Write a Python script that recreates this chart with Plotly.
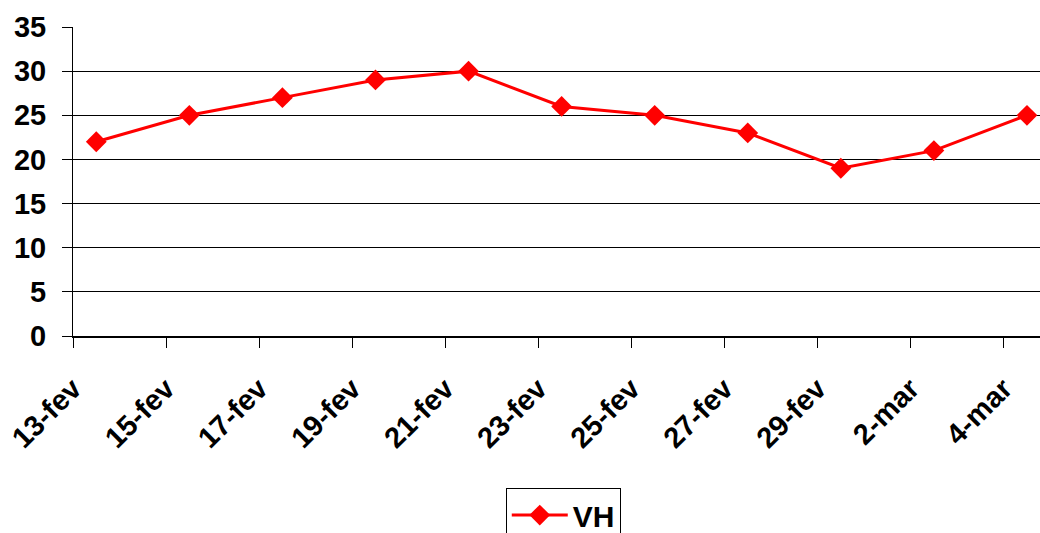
import plotly.graph_objects as go

# Daily readings, labelled every two days
dates = ["13-fev", "15-fev", "17-fev", "19-fev", "21-fev", "23-fev",
         "25-fev", "27-fev", "29-fev", "2-mar", "4-mar"]
vh_values = [22, 25, 27, 29, 30, 26, 25, 23, 19, 21, 25]

# Category slots: each reading sits a quarter step after its tick
tick_pos = list(range(len(dates)))
point_pos = [p + 0.25 for p in tick_pos]

FONT = "Arial, 'Liberation Sans', sans-serif"

fig = go.Figure()
fig.add_trace(go.Scatter(
    x=point_pos, y=vh_values, name="VH", mode="lines+markers",
    line=dict(color="#ff0000", width=3),
    marker=dict(symbol="diamond", size=16, color="#ff0000"),
))

fig.update_layout(
    width=1040, height=533, autosize=False,
    margin=dict(l=73, r=0, t=27, b=197, autoexpand=False),
    paper_bgcolor="white", plot_bgcolor="white",
    font=dict(family=FONT, color="black"),
    showlegend=True,
    legend=dict(
        x=0.507, y=-0.492, xanchor="center", yanchor="top",
        bordercolor="black", borderwidth=1,
        font=dict(family=FONT, size=30, color="black", weight="bold"),
        itemwidth=56,
    ),
    xaxis=dict(
        range=[0, 10.39],
        tickmode="array", tickvals=tick_pos, ticktext=dates,
        tickangle=-45, ticks="outside", ticklen=10, tickcolor="black",
        tickwidth=1, showgrid=False, zeroline=False,
        showline=True, linecolor="black", linewidth=2,
        tickfont=dict(family=FONT, size=29, color="black", weight="bold"),
        ticklabelstandoff=12,
    ),
    yaxis=dict(
        range=[0, 35], tickmode="linear", tick0=0, dtick=5,
        ticks="outside", ticklen=10, tickcolor="black", tickwidth=1,
        showgrid=True, gridcolor="black", gridwidth=1, zeroline=False,
        showline=True, linecolor="black", linewidth=1,
        tickfont=dict(family=FONT, size=29, color="black", weight="bold"),
        ticklabelstandoff=10,
    ),
)

fig.write_html("out.html")
